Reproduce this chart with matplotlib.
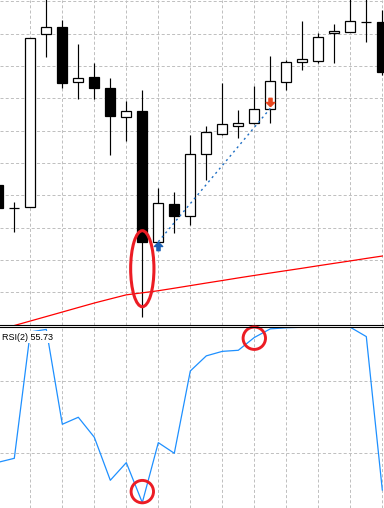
import matplotlib
matplotlib.use('Agg')
import matplotlib.pyplot as plt
import numpy as np
from matplotlib.patches import Ellipse

# candle data (arbitrary price units, one bar per index)
bars = np.arange(25)
opens = [43.18, 36.16, 36.29, 89.79, 92.05, 74.95, 76.49, 73.18, 64.31, 66.07,
         25.65, 37.31, 33.60, 52.86, 59.05, 61.52, 62.27, 66.60, 74.95, 81.13,
         81.63, 90.10, 90.60, 93.50, 93.60]
highs = [45.35, 37.83, 88.74, 101.33, 94.12, 86.79, 80.92, 76.28, 69.16, 72.56,
         42.16, 41.11, 58.65, 61.43, 74.82, 66.38, 73.80, 83.08, 81.75, 93.91,
         90.10, 92.98, 101.33, 101.33, 97.31]
lows = [34.21, 28.55, 36.29, 82.86, 73.28, 69.78, 69.78, 52.55, 56.79, 2.27,
        25.55, 28.24, 30.81, 44.73, 58.74, 57.81, 62.05, 62.45, 72.56, 78.84,
        81.01, 81.01, 90.60, 87.41, 77.20]
closes = [35.98, 36.16, 88.55, 91.96, 74.82, 76.18, 73.28, 64.62, 65.98, 25.65,
          37.52, 33.69, 52.68, 59.48, 61.96, 62.27, 66.69, 75.35, 81.22, 82.06,
          88.86, 90.72, 93.81, 93.50, 78.22]
ma = [-1.66, -0.27, 1.12, 2.51, 3.90, 5.30, 6.69, 7.96, 9.22, 9.84,
      10.49, 11.27, 12.07, 12.87, 13.65, 14.45, 15.22, 15.97, 16.71, 17.45,
      18.22, 18.97, 19.71, 20.48, 21.22]
rsi = [25.0, 27.2, 97.4, 98.8, 46.1, 50.0, 38.9, 15.0, 24.8, 2.6,
       35.9, 30.0, 75.7, 84.1, 86.6, 87.2, 94.3, 99.1, 99.7, 100.0,
       100.0, 100.0, 100.0, 94.8, 9.6]
rsi_label = 'RSI(2) 55.73'

# trade: buy at bar 10, close at bar 17
trade_bars = [10, 17]
trade_prices = [25.65, 66.90]
entry_arrow = 24.41
exit_arrow = 68.95

fig = plt.figure(figsize=(3.84, 5.08), dpi=100)
fig.patch.set_facecolor('white')

ax = fig.add_axes([0, 0.3608, 1, 0.6392])
ax2 = fig.add_axes([0, 0, 1, 0.3569])

grid_kw = dict(color='#c0c0c0', lw=0.72, linestyle=(0, (3, 2.2)), zorder=0)

for a in (ax, ax2):
    a.set_xlim(0.106, 24.106)
    a.set_xticks([])
    a.set_yticks([])
    a.spines[['left', 'right', 'top', 'bottom']].set_visible(False)
    for gx in range(2, 25, 2):
        a.axvline(gx, **grid_kw)

ax.set_ylim(-0.02, 100.4)
for gy in range(10, 101, 10):
    ax.axhline(gy, **grid_kw)
ax.spines['bottom'].set_visible(True)
ax.spines['bottom'].set_linewidth(0.8)
ax.spines['bottom'].set_zorder(10)

ax2.set_ylim(-0.4, 100.3)
for gy in (30, 70):
    ax2.axhline(gy, **grid_kw)
ax2.spines['top'].set_visible(True)
ax2.spines['top'].set_linewidth(0.8)
ax2.spines['top'].set_zorder(10)

# candles
o = np.array(opens)
c = np.array(closes)
ax.vlines(bars, lows, highs, color='black', lw=0.85, zorder=2)
body_bottom = np.minimum(o, c)
body_h = np.abs(c - o)
face = ['white' if cc >= oo else 'black' for oo, cc in zip(o, c)]
ax.bar(bars, body_h, bottom=body_bottom, width=0.62, color=face,
       edgecolor='black', linewidth=0.9, zorder=3)

# moving average
ax.plot(bars, ma, color='#ff0000', lw=0.9, zorder=4)

# trade marks
ax.plot(trade_bars, trade_prices, color='#1f6fc4', lw=1.0,
        linestyle=(0, (1.5, 2.5)), zorder=5)
up = [(0, 1), (1, 0), (0.38, 0), (0.38, -1), (-0.38, -1), (-0.38, 0), (-1, 0), (0, 1)]
down = [(x, -y) for x, y in up]
ax.plot([trade_bars[0]], [entry_arrow], marker=up, ms=6, color='#1a5fb4',
        linestyle='none', zorder=6)
ax.plot([trade_bars[1]], [exit_arrow], marker=down, ms=6, color='#e8461e',
        linestyle='none', zorder=6)

# RSI
ax2.plot(bars, rsi, color='#1e90ff', lw=0.9, zorder=4)
ax2.text(0.0052, 0.928, rsi_label, transform=ax2.transAxes, fontsize=6.5,
         family='Liberation Sans', va='baseline', ha='left', zorder=8,
         bbox=dict(facecolor='white', edgecolor='none', pad=1.2))

# red hand-drawn highlights
red = '#ec1c24'
ax.add_patch(Ellipse((9, 17.3), 23.3 / 16, 76 / 3.2333, fill=False,
                     edgecolor=red, lw=2.2, zorder=9))
r_px = 11.2
ax2.add_patch(Ellipse((9, rsi[9] + 6.1), 2 * r_px / 16, 2 * r_px / 1.8,
                      fill=False, edgecolor=red, lw=2.1, zorder=9, clip_on=False))
ax2.add_patch(Ellipse((16, rsi[16] - 0.4), 2 * r_px / 16, 2 * r_px / 1.8,
                      fill=False, edgecolor=red, lw=2.1, zorder=9, clip_on=False))

fig.savefig('out.png', dpi=100, facecolor='white')
